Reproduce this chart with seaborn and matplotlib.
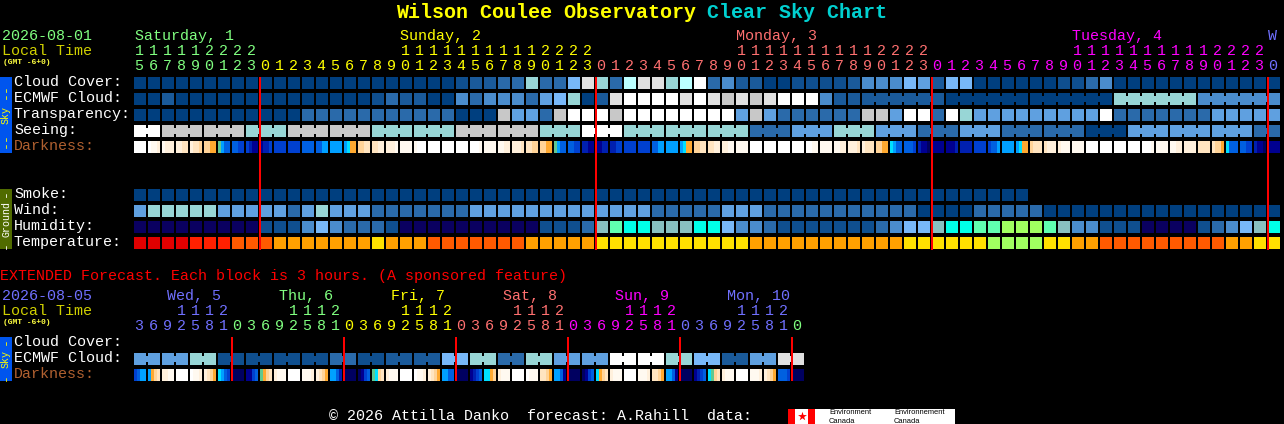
import numpy as np
import matplotlib
matplotlib.use("Agg")
import matplotlib.pyplot as plt
from matplotlib.colors import ListedColormap
from matplotlib.patches import Rectangle
import seaborn as sns

# shared colours of the sky/ground rows
block_colors = ["#003f7f", "#0f4f8f", "#1a5a9a", "#2a6aaa", "#4a8ccc", "#5fa0e0",
                "#78b8f8", "#98d6d6", "#bbffff", "#c8c8c8", "#e0e0e0", "#ffffff",
                "#0a0060", "#88c0c0", "#00ffe8", "#60ffb0", "#a0ff60",
                "#e00000", "#ff2000", "#ff5a00", "#ffa000", "#ffe000"]
# darkness scale, digits below are hex indexes into this
dark_colors = ["#ffffff", "#fff9f0", "#fff0dc", "#ffe4c0", "#ffd398", "#ffa930", "#60c890",
               "#00e0ff", "#00a0ff", "#0060e0", "#0040d0", "#0020b0", "#000090", "#000060"]

cloud_cover = [0,0,0,0,0,0,0,0,0,
               0,0,0,0,0,0,0,0,0,0,0,0,0,0,1,2,2,3,3,7,3,3,6,10,
               7,3,8,10,10,7,8,11,3,4,2,2,0,0,1,1,1,1,2,4,4,4,6,5,
               2,6,6,0,0,0,0,0,0,1,1,3,4,0,0,0,0,0,0,0,0,0,0,0,
               0]
ecmwf_cloud = [0,0,2,0,0,0,0,0,0,
               0,0,0,0,0,0,0,0,1,3,2,2,0,0,4,3,4,4,4,3,5,6,7,0,
               2,10,11,11,11,11,10,11,10,9,10,9,10,11,11,11,4,2,2,2,2,2,2,2,
               2,0,0,0,0,0,0,0,0,0,0,0,0,7,7,7,7,7,7,4,4,4,4,4,
               4]
transparency = [0,0,0,0,0,0,0,0,0,
                0,0,0,3,3,3,3,3,3,3,3,3,3,3,0,0,0,9,5,5,3,9,11,11,
                11,9,11,11,11,11,11,11,11,11,5,9,5,3,3,3,3,3,3,9,9,5,11,11,
                3,11,7,5,5,5,5,5,5,5,5,5,11,3,3,3,3,3,3,3,5,5,5,5,
                5]
seeing = [11,11,9,9,9,9,9,9,7,
          7,7,9,9,9,9,9,9,7,7,7,7,7,7,9,9,9,9,9,9,7,7,7,11,
          11,11,7,7,7,7,7,7,7,7,7,3,3,3,5,5,5,7,7,7,5,5,5,3,
          3,3,5,5,5,3,3,3,3,3,3,0,0,0,5,5,5,5,5,5,5,5,5,3,
          3]
smoke = [0,0,0,0,0,0,0,0,0,
         0,0,0,0,0,0,0,0,0,0,0,0,0,0,0,0,0,0,0,0,0,0,0,0,
         0,0,0,0,0,0,0,0,0,0,0,0,0,0,0,0,0,0,0,0,0,0,0,0,
         0,0,0,0,0,0,0]
wind = [5,7,7,7,7,7,5,5,5,
        5,5,3,5,7,5,5,5,3,3,3,3,3,3,3,5,5,5,5,5,5,5,5,5,
        5,5,5,5,3,3,3,3,3,5,5,5,3,3,3,3,3,3,3,3,3,3,3,0,
        0,0,0,3,3,3,3,3,0,0,0,0,0,0,0,0,0,0,0,0,0,0,0,0,
        0]
humidity = [12,12,12,12,12,12,12,12,12,
            1,1,1,4,6,4,3,3,3,1,12,12,12,12,12,12,12,12,12,12,1,1,1,3,
            13,15,14,14,13,13,13,14,14,6,4,4,3,1,1,1,1,1,1,1,3,4,6,6,
            13,14,14,15,15,16,16,16,15,13,4,4,1,1,1,12,12,12,12,1,3,4,6,13,
            14]
temperature = [17,17,17,17,18,18,18,19,19,
               19,20,20,20,20,20,20,20,21,20,20,20,19,19,19,19,19,19,19,20,20,20,20,20,
               21,21,21,21,21,21,21,21,21,21,21,20,20,20,20,20,20,20,20,20,20,20,21,21,
               21,21,21,21,16,16,16,16,21,21,20,20,19,19,19,19,19,19,19,19,19,20,20,21,
               21]
darkness = ["0000","0112","1222","2233","2334","4455","6899","99aa","abcc",
            "cbba","aaaa","aaaa","9999","9988","8888","8755","4433","3322","2221","1111","1000",
            "0000","0000","0000","0001","1111","1122","2223","3344","4455","6899","99aa","bbcc",
            "ccbb","bbaa","aaaa","aaaa","9988","8888","8755","4433","3322","2211","1111","0000",
            "0000","0000","0000","0011","1111","1122","2223","2333","4455","7899","999a","bccd",
            "cccc","cccb","bbbb","aaaa","a998","8888","8755","4333","3222","2111","1111","0000",
            "0000","0000","0000","0001","1111","1122","2222","3333","3445","7999","99aa","bccd",
            "cccc"]
ext_ecmwf = [5,5,5,5,7,7,1,1,1,1,1,1,1,1,3,3,1,1,2,2,2,2,6,6,
             7,7,3,3,7,7,5,5,5,5,11,11,11,11,7,7,6,6,2,2,5,5,10,10]
ext_darkness = ["a988","8543","2211","0000","0112","2345","789a","dddd",
                "cca9","6543","2111","0000","1112","2345","889b","dddd",
                "dca9","6743","2111","0000","0112","2345","8899","dddd",
                "cba9","7754","2111","0000","0111","3345","889c","dddd",
                "dca9","7543","2111","0000","1112","3345","889c","dddd",
                "cba9","7643","2111","0000","1112","2345","999a","dddd"]

# cells that are drawn joined, as run lengths
seeing_runs = [2] + [3]*26 + [2]
ecmwf_runs = [1]*52 + [6]*5
ext_ecmwf_runs = [2]*24

top_hours = [15,16,17,18,19,20,21,22,23] + list(range(24))*3 + [0]
ext_hours = [3,6,9,12,15,18,21] + [0,3,6,9,12,15,18,21]*5 + [0]

GREEN, YELLOW, SALMON, MAGENTA, BLUE = "#80ff80", "#ffff00", "#ff7070", "#ff00ff", "#7070ff"
top_hour_colors = [GREEN]*9 + [YELLOW]*24 + [SALMON]*24 + [MAGENTA]*24 + [BLUE]
ext_hour_colors = [BLUE]*7 + [GREEN]*8 + [YELLOW]*8 + [SALMON]*8 + [MAGENTA]*8 + [BLUE]*8 + [GREEN]

top_days = ["Saturday, 1", "Sunday, 2", "Monday, 3", "Tuesday, 4", "W"]
top_day_x = [135, 400, 736, 1072, 1268]
top_day_colors = [GREEN, YELLOW, SALMON, MAGENTA, BLUE]
ext_days = ["Wed, 5", "Thu, 6", "Fri, 7", "Sat, 8", "Sun, 9", "Mon, 10"]
ext_day_x = [167, 279, 391, 503, 615, 727]
ext_day_colors = [BLUE, GREEN, YELLOW, SALMON, MAGENTA, BLUE]

W, H = 1284, 424
LEFT = 134
PITCH = 14
CELL = 12
MONO = "Liberation Mono"

sns.set_theme(style="white", rc={"figure.facecolor": "black", "savefig.facecolor": "black",
                                 "axes.facecolor": "none"})
plt.rcParams["font.family"] = [MONO, "DejaVu Sans"]

fig = plt.figure(figsize=(W/100, H/100), dpi=100)
block_cmap = ListedColormap(block_colors)
dark_cmap = ListedColormap(dark_colors)


def px_axes(x, y, w, h):
    return fig.add_axes([x/W, 1 - (y + h)/H, w/W, h/H])


def heat(row, y, h, cmap):
    ax = px_axes(LEFT, y, len(row), h)
    sns.heatmap(row[np.newaxis], ax=ax, cmap=cmap, vmin=-0.5, vmax=cmap.N - 0.5,
                cbar=False, xticklabels=False, yticklabels=False)


#One pixel per column, the gap between cells stays empty
def stretch(samples):
    row = []
    for s in samples:
        row.extend(np.repeat(s, CELL // len(s)))
        row.extend([np.nan, np.nan])
    return np.array(row, dtype=float)


def block_row(values, y):
    heat(stretch([[v] for v in values]), y, CELL, block_cmap)


def dark_row(values, y):
    heat(stretch([[int(c, 16) for c in v] for v in values]), y, CELL, dark_cmap)


#The narrow strip that joins neighbour cells in one run
def bridge_row(values, runs, y):
    row = np.full(len(values)*PITCH, np.nan)
    i = 0
    for run in runs:
        for j in range(i, i + run - 1):
            row[(j*PITCH + CELL):(j*PITCH + PITCH)] = values[j]
        i += run
    heat(row, y + 3, CELL - 6, block_cmap)


block_row(cloud_cover, 77)
block_row(ecmwf_cloud, 93)
bridge_row(ecmwf_cloud, ecmwf_runs, 93)
block_row(transparency, 109)
block_row(seeing, 125)
bridge_row(seeing, seeing_runs, 125)
dark_row(darkness, 141)
block_row(smoke, 189)
block_row(wind, 205)
block_row(humidity, 221)
block_row(temperature, 237)
block_row(ext_ecmwf, 353)
bridge_row(ext_ecmwf, ext_ecmwf_runs, 353)
dark_row(ext_darkness, 369)

# overlay in pixel coordinates for the text and the midnight lines
ov = fig.add_axes([0, 0, 1, 1])
ov.set_xlim(0, W)
ov.set_ylim(H, 0)
ov.axis("off")


def label(x, y, s, color="white", px=15, **kw):
    ov.text(x, y, s, color=color, fontsize=px*0.72, va="baseline", **kw)


label(396, 18, "Wilson Coulee Observatory", "#ffff00", 20, fontweight="bold")
label(707, 18, "Clear Sky Chart", "#00d0d0", 20, fontweight="bold")

label(2, 40, "2026-08-01", GREEN)
label(2, 55, "Local Time", "#d0d000")
label(3, 64, "(GMT -6+0)", "#ffff40", 8, fontweight="bold")
for name, x, c in zip(top_days, top_day_x, top_day_colors):
    label(x, 40, name, c)
for i, (hour, c) in enumerate(zip(top_hours, top_hour_colors)):
    cx = LEFT + i*PITCH + CELL/2 - 1
    if hour >= 10:
        label(cx, 55, str(hour // 10), c, ha="center")
    label(cx, 70, str(hour % 10), c, ha="center")

for y, s in zip([86, 102, 118, 134], ["Cloud Cover:", "ECMWF Cloud:", "Transparency:", "Seeing:"]):
    label(14, y, s)
label(14, 150, "Darkness:", "#b06030")
for y, s in zip([198, 214, 230, 246], ["Smoke:", "Wind:", "Humidity:", "Temperature:"]):
    label(14, y, s)

label(0, 280, "EXTENDED Forecast. Each block is 3 hours. (A sponsored feature)", "#ff0000")
label(2, 300, "2026-08-05", BLUE)
label(2, 315, "Local Time", "#d0d000")
label(3, 324, "(GMT -6+0)", "#ffff40", 8, fontweight="bold")
for name, x, c in zip(ext_days, ext_day_x, ext_day_colors):
    label(x, 300, name, c)
for i, (hour, c) in enumerate(zip(ext_hours, ext_hour_colors)):
    cx = LEFT + i*PITCH + CELL/2 - 1
    if hour >= 10:
        label(cx, 315, str(hour // 10), c, ha="center")
    label(cx, 330, str(hour % 10), c, ha="center")
label(14, 346, "Cloud Cover:")
label(14, 362, "ECMWF Cloud:")
label(14, 378, "Darkness:", "#b06030")

# side bars, the dashes are wider spaced than the word
for y0, y1, bar, txt, c, mid, dash, dash_ys in [
        (77, 153, "#0055ee", "Sky", "#ffff00", 115, "--", [91, 140]),
        (189, 249, "#506b00", "Ground", "#ffffff", 219, "-", [193, 245]),
        (337, 381, "#0055ee", "Sky", "#ffff00", 359, "-", [341, 377])]:
    ov.add_patch(Rectangle((0, y0), 12, y1 - y0, color=bar, lw=0))
    ov.text(6, mid, txt, color=c, fontsize=7.2, rotation=90, ha="center", va="center")
    for dy in dash_ys:
        ov.text(6, dy, dash, color=c, fontsize=9.5, rotation=90, ha="center", va="center")

# midnight lines
top_midnights = [i for i, h in enumerate(top_hours) if h == 0]
ext_midnights = [i for i, h in enumerate(ext_hours) if h == 0]
ov.vlines([LEFT + i*PITCH for i in top_midnights], 77, 250, color="#ff0000", lw=1.44)
ov.vlines([LEFT + i*PITCH for i in ext_midnights], 337, 381, color="#ff0000", lw=1.44)

# footer and logo
label(329, 420, "\u00a9 2026 Attilla Danko  forecast: A.Rahill  data:")
ov.add_patch(Rectangle((788, 409), 167, 15, color="white", lw=0))
ov.add_patch(Rectangle((788, 409), 7, 15, color="#ff0000", lw=0))
ov.add_patch(Rectangle((808, 409), 7, 15, color="#ff0000", lw=0))
ov.scatter([801.5], [416], marker="*", s=45, color="#ff0000", lw=0)
for x, a, b in [(829, "Environment", "Canada"), (894, "Environnement", "Canada")]:
    ov.text(x, 414.5, a, color="black", fontsize=5.4, va="baseline", family="Liberation Sans")
    ov.text(x, 423, b, color="black", fontsize=5.4, va="baseline", family="Liberation Sans")

fig.savefig("out.png", dpi=100)
